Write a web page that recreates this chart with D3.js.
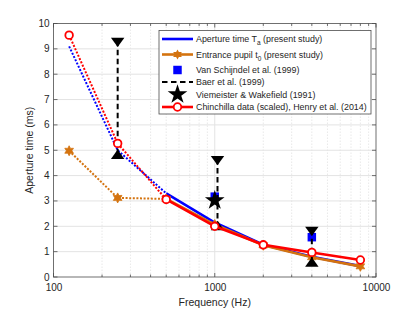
<!DOCTYPE html>
<html>
<head>
<meta charset="utf-8">
<script src="https://cdn.jsdelivr.net/npm/d3@7"></script>
<style>
  body { margin: 0; background: #fff; }
  svg { font-family: "Liberation Sans", Arial, Helvetica, sans-serif; }
</style>
</head>
<body>
<div id="chart"></div>
<script>
// values
const freqs = [125, 250, 500, 1000, 2000, 4000, 8000]
const apertureTime = [9.1, 5.0, 3.3, 2.15, 1.27, 0.8, 0.43]
const entrancePupil = [4.98, 3.12, 3.08, 2.07, 1.25, 0.78, 0.42]
const chinchilla = [9.54, 5.27, 3.06, 2.0, 1.27, 0.97, 0.67]
const dottedUpTo = 3 // first three points are drawn dotted

const vanSchijndelFreqs = [1000, 4000]
const vanSchijndel = [3.17, 1.57]

const baerFreqs = [250, 1040, 4000]
const baerHigh = [9.32, 4.65, 1.86]
const baerLow = [4.78, 1.97, 0.53]

const viemeisterFreqs = [1000]
const viemeister = [3.02]

const xTicks = [100, 1000, 10000]
const yTicks = [0, 1, 2, 3, 4, 5, 6, 7, 8, 9, 10]

const legendLabels = [
  ['Aperture time T', 'a', ' (present study)'],
  ['Entrance pupil t', '0', ' (present study)'],
  ['Van Schijndel et al. (1999)'],
  ['Baer et al. (1999)'],
  ['Viemeister & Wakefield (1991)'],
  ['Chinchilla data (scaled), Henry et al. (2014)'],
]

/*----------------------------------------------------------------------------*/

const width = 415
const height = 312
const margin = { left: 53.5, right: 39, top: 23.5, bottom: 35 }

const blue = '#0000ff'
const orange = '#d4730f'
const red = '#ff0000'
const axisColor = '#4d4d4d'
const textColor = '#262626'

const x = d3.scaleLog()
  .domain([100, 10000])
  .range([margin.left, width - margin.right])

const y = d3.scaleLinear()
  .domain([0, 10])
  .range([height - margin.bottom, margin.top])

const svg = d3.select('#chart').append('svg')
  .attr('width', width)
  .attr('height', height)

const minorX = d3.range(2, 10).map(d => d * 100)
  .concat(d3.range(2, 10).map(d => d * 1000))

// grid
const grid = svg.append('g')
grid.selectAll('.ygrid')
  .data(yTicks.slice(1, -1))
  .enter()
  .append('line')
  .attr('x1', x.range()[0]).attr('x2', x.range()[1])
  .attr('y1', d => y(d)).attr('y2', d => y(d))
  .attr('stroke', '#e3e3e3')
  .attr('stroke-width', 1)
grid.selectAll('.xminor')
  .data(minorX)
  .enter()
  .append('line')
  .attr('x1', d => x(d)).attr('x2', d => x(d))
  .attr('y1', y.range()[0]).attr('y2', y.range()[1])
  .attr('stroke', '#e3e3e3')
  .attr('stroke-dasharray', '1.5 1.5')
  .attr('stroke-width', 0.8)
grid.append('line')
  .attr('x1', x(1000)).attr('x2', x(1000))
  .attr('y1', y.range()[0]).attr('y2', y.range()[1])
  .attr('stroke', '#e3e3e3')
  .attr('stroke-width', 1)

// axes
const xAxis = svg.append('g')
  .attr('transform', `translate(0, ${y(0)})`)
  .call(d3.axisBottom(x).tickValues(xTicks).tickFormat(d3.format('d')).tickSize(0).tickPadding(7))
const yAxis = svg.append('g')
  .attr('transform', `translate(${x(100)}, 0)`)
  .call(d3.axisLeft(y).tickValues(yTicks).tickSize(0).tickPadding(4))

;[xAxis, yAxis].forEach(a => {
  a.select('.domain').remove()
  a.selectAll('text')
    .attr('fill', textColor)
    .style('font-size', '10px')
})
yAxis.selectAll('text').attr('dy', '0.3em')

// box and inward ticks
const ticks = svg.append('g').attr('stroke', axisColor).attr('stroke-width', 0.8)
ticks.append('rect')
  .attr('x', x(100)).attr('y', y(10))
  .attr('width', x(10000) - x(100))
  .attr('height', y(0) - y(10))
  .attr('fill', 'none')
xTicks.concat(minorX).forEach(d => {
  const len = xTicks.includes(d) ? 4 : 2.5
  ticks.append('line').attr('x1', x(d)).attr('x2', x(d)).attr('y1', y(0)).attr('y2', y(0) - len)
  ticks.append('line').attr('x1', x(d)).attr('x2', x(d)).attr('y1', y(10)).attr('y2', y(10) + len)
})
yTicks.forEach(d => {
  ticks.append('line').attr('x1', x(100)).attr('x2', x(100) + 4).attr('y1', y(d)).attr('y2', y(d))
  ticks.append('line').attr('x1', x(10000)).attr('x2', x(10000) - 4).attr('y1', y(d)).attr('y2', y(d))
})

// axis labels
svg.append('text')
  .attr('x', (x(100) + x(10000)) / 2)
  .attr('y', 306)
  .attr('text-anchor', 'middle')
  .attr('fill', textColor)
  .style('font-size', '10.5px')
  .text('Frequency (Hz)')
svg.append('text')
  .attr('transform', `translate(33, ${(y(0) + y(10)) / 2}) rotate(-90)`)
  .attr('text-anchor', 'middle')
  .attr('fill', textColor)
  .style('font-size', '10.5px')
  .text('Aperture time (ms)')

// markers
const hexagram = r => {
  const pts = []
  for (let i = 0; i < 12; i++) {
    const a = -Math.PI / 2 + i * Math.PI / 6
    const rr = i % 2 === 0 ? r : r * 0.55
    pts.push([rr * Math.cos(a), rr * Math.sin(a)])
  }
  return 'M' + pts.map(p => p.join(',')).join('L') + 'Z'
}
const triUp = d3.symbol().type(d3.symbolTriangle).size(50)()
const star = d3.symbol().type(d3.symbolStar).size(120)()
const square = d3.symbol().type(d3.symbolSquare).size(72)()

const line = d3.line()
  .x(d => x(d[0]))
  .y(d => y(d[1]))

const plot = svg.append('g')

const drawSeries = (values, color) => {
  const pts = freqs.map((f, i) => [f, values[i]])
  plot.append('path')
    .attr('d', line(pts.slice(0, dottedUpTo)))
    .attr('fill', 'none')
    .attr('stroke', color)
    .attr('stroke-width', 2)
    .attr('stroke-dasharray', '2 1.6')
  plot.append('path')
    .attr('d', line(pts.slice(dottedUpTo - 1)))
    .attr('fill', 'none')
    .attr('stroke', color)
    .attr('stroke-width', 2.6)
  return pts
}

drawSeries(apertureTime, blue)
const orangePts = drawSeries(entrancePupil, orange)
plot.selectAll('.hex')
  .data(orangePts)
  .enter()
  .append('path')
  .attr('d', hexagram(5))
  .attr('transform', d => `translate(${x(d[0])}, ${y(d[1])})`)
  .attr('fill', orange)
  .attr('stroke', orange)
  .attr('stroke-width', 0.8)

// Van Schijndel squares
plot.selectAll('.sq')
  .data(vanSchijndelFreqs.map((f, i) => [f, vanSchijndel[i]]))
  .enter()
  .append('path')
  .attr('d', square)
  .attr('transform', d => `translate(${x(d[0])}, ${y(d[1])})`)
  .attr('fill', blue)

// Baer ranges
baerFreqs.forEach((f, i) => {
  plot.append('line')
    .attr('x1', x(f)).attr('x2', x(f))
    .attr('y1', y(baerHigh[i])).attr('y2', y(baerLow[i]))
    .attr('stroke', '#000')
    .attr('stroke-width', 2)
    .attr('stroke-dasharray', '5.5 3.5')
  plot.append('path')
    .attr('d', triUp)
    .attr('transform', `translate(${x(f)}, ${y(baerHigh[i])}) rotate(180) scale(1.25, 1)`)
    .attr('fill', '#000')
  plot.append('path')
    .attr('d', triUp)
    .attr('transform', `translate(${x(f)}, ${y(baerLow[i])}) scale(1.25, 1)`)
    .attr('fill', '#000')
})

// Viemeister star
plot.selectAll('.star')
  .data(viemeisterFreqs.map((f, i) => [f, viemeister[i]]))
  .enter()
  .append('path')
  .attr('d', star)
  .attr('transform', d => `translate(${x(d[0])}, ${y(d[1])})`)
  .attr('fill', '#000')

const redPts = drawSeries(chinchilla, red)
plot.selectAll('.circ')
  .data(redPts)
  .enter()
  .append('circle')
  .attr('cx', d => x(d[0]))
  .attr('cy', d => y(d[1]))
  .attr('r', 3.8)
  .attr('fill', '#fff')
  .attr('stroke', red)
  .attr('stroke-width', 1.8)

// legend
const legend = svg.append('g')
legend.append('rect')
  .attr('x', 159).attr('y', 30.5)
  .attr('width', 212).attr('height', 83.5)
  .attr('fill', '#fff')
  .attr('stroke', axisColor)
  .attr('stroke-width', 0.8)

const rowY = [39, 54.5, 70, 82, 94.5, 107]
const lx0 = 162
const lx1 = 193
const lmid = (lx0 + lx1) / 2

legend.append('line').attr('x1', lx0).attr('x2', lx1).attr('y1', rowY[0]).attr('y2', rowY[0])
  .attr('stroke', blue).attr('stroke-width', 2.6)
legend.append('line').attr('x1', lx0).attr('x2', lx1).attr('y1', rowY[1]).attr('y2', rowY[1])
  .attr('stroke', orange).attr('stroke-width', 2.6)
legend.append('path').attr('d', hexagram(5))
  .attr('transform', `translate(${lmid}, ${rowY[1]})`)
  .attr('fill', orange)
legend.append('path').attr('d', square)
  .attr('transform', `translate(${lmid}, ${rowY[2]})`)
  .attr('fill', blue)
legend.append('line').attr('x1', lx0).attr('x2', lx1).attr('y1', rowY[3]).attr('y2', rowY[3])
  .attr('stroke', '#000').attr('stroke-width', 2).attr('stroke-dasharray', '5.5 3.5')
legend.append('path').attr('d', star)
  .attr('transform', `translate(${lmid}, ${rowY[4]})`)
  .attr('fill', '#000')
legend.append('line').attr('x1', lx0).attr('x2', lx1).attr('y1', rowY[5]).attr('y2', rowY[5])
  .attr('stroke', red).attr('stroke-width', 2.6)
legend.append('circle').attr('cx', lmid).attr('cy', rowY[5]).attr('r', 3.8)
  .attr('fill', '#fff').attr('stroke', red).attr('stroke-width', 1.8)

legendLabels.forEach((parts, i) => {
  const t = legend.append('text')
    .attr('x', 196)
    .attr('y', rowY[i] + 3)
    .attr('fill', textColor)
    .style('font-size', '8.9px')
  t.append('tspan').text(parts[0])
  if (parts.length > 1) {
    t.append('tspan').attr('dy', 3).style('font-size', '6.5px').text(parts[1])
    t.append('tspan').attr('dy', -3).text(parts[2])
  }
})
</script>
</body>
</html>
